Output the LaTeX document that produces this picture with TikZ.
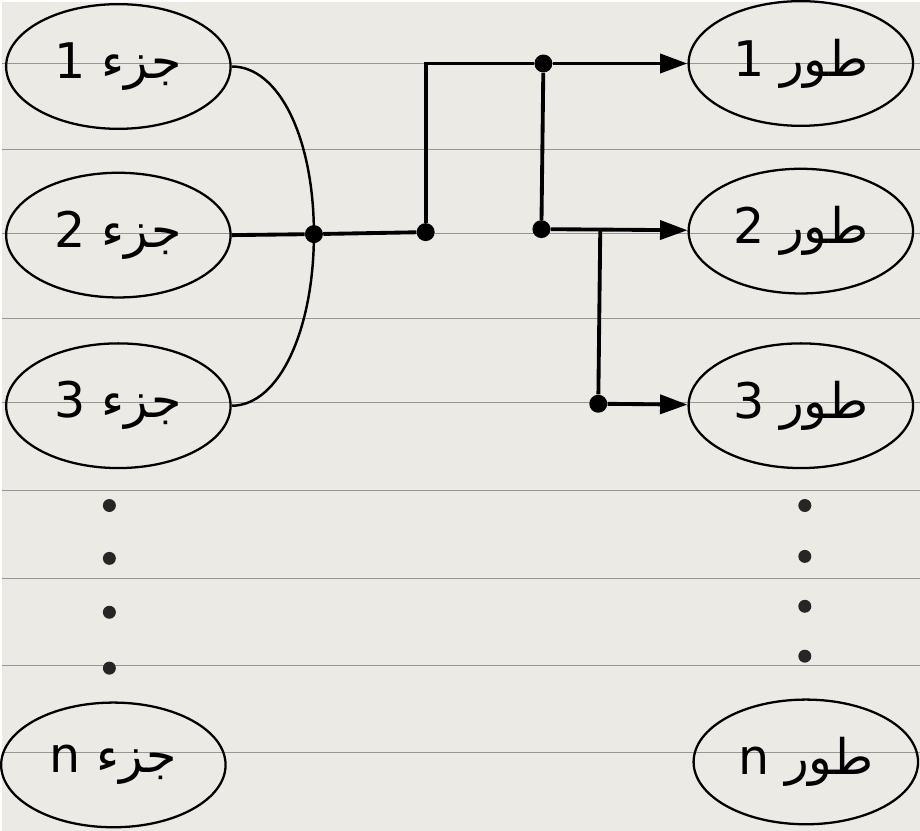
\documentclass[tikz,border=0pt]{standalone}
\usepackage{fontspec}
\usepackage{tikz}
\usetikzlibrary{arrows.meta,shapes.geometric}
\newfontfamily\arabicfont[Script=Arabic]{DejaVu Sans}
\TeXXeTstate=1
\definecolor{paper}{RGB}{236,234,229}
\definecolor{ruling}{RGB}{150,150,150}

\begin{document}
\begin{tikzpicture}[x=0.02cm, y=-0.02cm]
  \tikzstyle{state} = [ellipse, draw, line width=1.3pt, minimum width=4.5cm,
  minimum height=2.5cm, inner sep=0pt, font=\fontsize{28}{32}\selectfont\arabicfont]
  \tikzstyle{joint} = [circle, fill=black, minimum size=0.36cm, inner sep=0pt]
  \tikzstyle{vdot} = [circle, fill=black!85, minimum size=0.26cm, inner sep=0pt]
  \tikzstyle{wire} = [line width=2.2pt]
  \tikzstyle{feed} = [wire, -{Triangle[length=0.55cm, width=0.38cm]}]

  % Paper and its ruled lines
  \fill[paper] (0,0) rectangle (920,831);
  \foreach \y in {62,148,232,318,402,490,578,665,752}
    \draw[ruling, line width=0.5pt] (0,\y) -- (920,\y);

  % Define nodes
  \node[state] (j1) at (117,65) {\beginR جزء 1\endR};
  \node[state] (j2) at (117,234) {\beginR جزء 2\endR};
  \node[state] (j3) at (117,405) {\beginR جزء 3\endR};
  \node[state] (jn) at (112,765) {\beginR جزء n\endR};

  \node[state] (t1) at (801,62) {\beginR طور 1\endR};
  \node[state] (t2) at (801,230) {\beginR طور 2\endR};
  \node[state] (t3) at (801,405) {\beginR طور 3\endR};
  \node[state] (tn) at (806,762) {\beginR طور n\endR};

  \foreach \i/\y in {1/505,2/558,3/612,4/668}
    \node[vdot] (ld\i) at (108,\y) {};
  \foreach \i/\y in {1/505,2/556,3/606,4/656}
    \node[vdot] (rd\i) at (805,\y) {};

  \node[joint] (m) at (313,233) {};
  \node[joint] (a) at (425,231) {};
  \node[joint] (b) at (543,62) {};
  \node[joint] (c) at (541,228) {};
  \node[joint] (d) at (598,403) {};
  \coordinate (br) at (600,228);

  % Connectors
  \draw[line width=1.4pt] (j1.east) .. controls +(48,0) and +(0,-95) .. (m.center)
    .. controls +(0,95) and +(48,0) .. (j3.east);
  \draw[wire] (j2.east) -- (m) -- (a);
  \draw[wire] (a) |- (b);
  \draw[feed] (b) -- (t1);
  \draw[wire] (b) -- (c);
  \draw[feed] (c) -- (t2);
  \draw[wire] (br) -- (d);
  \draw[feed] (d) -- (t3);
\end{tikzpicture}
\end{document}
